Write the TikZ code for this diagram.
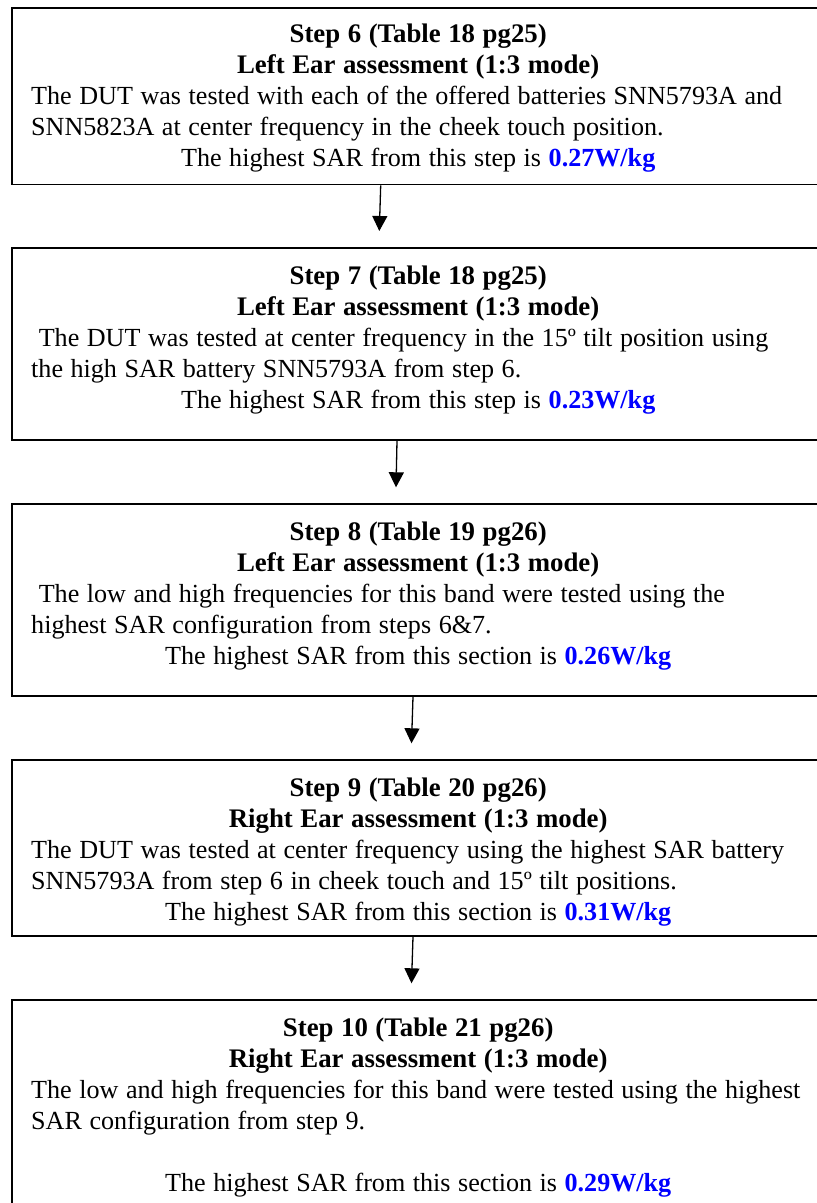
\documentclass[tikz,border=0pt]{standalone}
\usepackage{fontspec}
\setmainfont{Liberation Serif}
\usetikzlibrary{arrows.meta,calc}
\definecolor{sarblue}{RGB}{0,0,255}
\setlength{\parindent}{0pt}
\setlength{\parskip}{0pt}
\newcommand{\sar}[1]{\textcolor{sarblue}{\bfseries #1}}
\newcommand{\firstline}{\rule{0pt}{36.5pt}}
\newcommand{\stepfont}{\fontsize{26.1pt}{31pt}\selectfont}
\newcommand{\tightspaces}{\setlength{\spaceskip}{0.29em}}
\newcommand{\steptitle}{\centering\fontsize{26.8pt}{31pt}\selectfont\bfseries\firstline}

\tikzset{
  stepbox/.style={draw=black, line width=1.6pt, rectangle, inner sep=0pt,
    minimum width=830pt, anchor=north west},
  steptext/.style={anchor=north west, inner sep=0pt, text width=774pt,
    font=\stepfont},
  flow/.style={line width=1.3pt, -{Triangle[width=15pt,length=15pt]}}
}

\begin{document}
\begin{tikzpicture}[x=1pt,y=-1pt]
  \fill[white] (0,0) rectangle (817,1203);
  \clip (0,0) rectangle (817,1203);

  % step boxes (they run past the right edge of the page)
  \node[stepbox, minimum height=176.4pt] (s6)  at (11,7.3)   {};
  \node[stepbox, minimum height=192.3pt] (s7)  at (11,247)   {};
  \node[stepbox, minimum height=192pt]   (s8)  at (11,503.3) {};
  \node[stepbox, minimum height=176pt]   (s9)  at (11,759.3) {};
  \node[stepbox, minimum height=260pt]   (s10) at (11,999.3) {};

  % step 6
  \node[steptext] (t6) at ($(s6.north west)+(20,-1.8)$) {\tightspaces
    {\steptitle Step 6 (Table 18 pg25)\\
      Left Ear assessment (1:3 mode)\par}
    {\raggedright
      \mbox{The DUT was tested with each of the offered batteries SNN5793A and}\\
      \mbox{SNN5823A at center frequency in the cheek touch position.}\par}
    {\centering The highest SAR from this step is \sar{0.27W/kg}\par}};

  % step 7
  \node[steptext] (t7) at ($(s7.north west)+(20,0.6)$) {\tightspaces
    {\steptitle Step 7 (Table 18 pg25)\\
      Left Ear assessment (1:3 mode)\par}
    {\raggedright
      \mbox{\ The DUT was tested at center frequency in the 15º tilt position using}\\
      \mbox{the high SAR battery SNN5793A from step 6.}\par}
    {\centering The highest SAR from this step is \sar{0.23W/kg}\par}};

  % step 8
  \node[steptext] (t8) at ($(s8.north west)+(20,0.6)$) {\tightspaces
    {\steptitle Step 8 (Table 19 pg26)\\
      Left Ear assessment (1:3 mode)\par}
    {\raggedright
      \mbox{\ The low and high frequencies for this band were tested using the}\\
      \mbox{highest SAR configuration from steps 6\&7.}\par}
    {\centering The highest SAR from this section is \sar{0.26W/kg}\par}};

  % step 9
  \node[steptext] (t9) at ($(s9.north west)+(20,0.6)$) {\tightspaces
    {\steptitle Step 9 (Table 20 pg26)\\
      Right Ear assessment (1:3 mode)\par}
    {\raggedright
      \mbox{The DUT was tested at center frequency using the highest SAR battery}\\
      \mbox{SNN5793A from step 6 in cheek touch and 15º tilt positions.}\par}
    {\centering The highest SAR from this section is \sar{0.31W/kg}\par}};

  % step 10
  \node[steptext] (t10) at ($(s10.north west)+(20,0.6)$) {\tightspaces
    {\steptitle Step 10 (Table 21 pg26)\\
      Right Ear assessment (1:3 mode)\par}
    {\raggedright
      \mbox{The low and high frequencies for this band were tested using the highest}\\
      \mbox{SAR configuration from step 9.}\\
      \mbox{}\par}
    {\centering The highest SAR from this section is \sar{0.29W/kg}\par}};

  % connectors between the steps
  \draw[flow] ($(s6.south west)+(369.7,0)$) -- ($(s7.north west)+(368.3,-16)$);
  \draw[flow] ($(s7.south west)+(386,0)$)   -- ($(s8.north west)+(385,-16)$);
  \draw[flow] ($(s8.south west)+(402,0)$)   -- ($(s9.north west)+(400.5,-16)$);
  \draw[flow] ($(s9.south west)+(402,0)$)   -- ($(s10.north west)+(400.5,-16)$);
\end{tikzpicture}
\end{document}
